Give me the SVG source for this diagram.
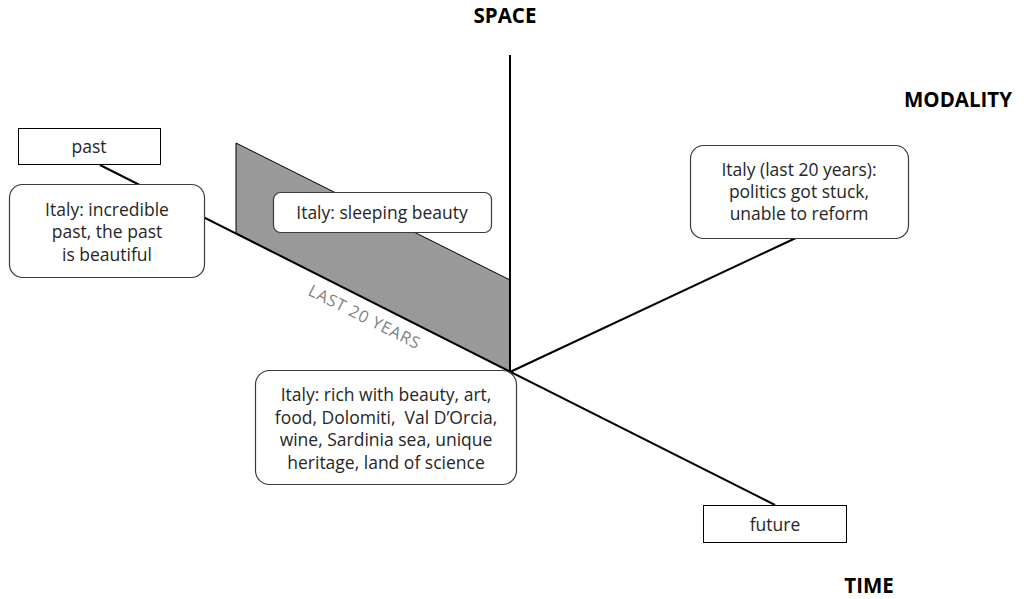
<svg xmlns="http://www.w3.org/2000/svg" width="1024" height="599" viewBox="0 0 1024 599">
<style>
.axis{stroke:#000;stroke-width:2;fill:none}
.box{fill:#fff;stroke:#000;stroke-width:1}
.rbox{fill:#fff;stroke:#3a3a3a;stroke-width:1.2}
.t{font-family:"Open Sans","Liberation Sans",sans-serif;font-size:17.5px;fill:#262626;text-anchor:middle}
.h{font-family:"Open Sans","Liberation Sans",sans-serif;font-size:20.5px;font-weight:bold;fill:#000;text-anchor:middle}
.g{font-family:"Open Sans","Liberation Sans",sans-serif;font-size:16.5px;fill:#7f7f7f;text-anchor:middle}
</style>
<rect width="1024" height="599" fill="#fff"/>
<g id="axis-labels">
<text class="h" x="505" y="23">SPACE</text>
<text class="h" x="958" y="107">MODALITY</text>
<text class="h" x="869" y="593">TIME</text>
</g>
<g id="last20-plane">
<polygon points="236,143 510,280 510,372 236,233" fill="#999" stroke="#000" stroke-width="1"/>
</g>
<g id="connectors">
<line class="axis" x1="510" y1="55" x2="510" y2="372"/>
<line class="axis" x1="100" y1="165" x2="775" y2="505"/>
<line class="axis" x1="510" y1="372" x2="798" y2="237"/>
</g>
<g id="last20-label">
<text class="g" transform="translate(362,322) rotate(26.6)" letter-spacing="0.8">LAST 20 YEARS</text>
</g>
<g id="past">
<rect class="box" x="18.5" y="128.5" width="142" height="36"/>
<text class="t" x="89" y="153">past</text>
</g>
<g id="italy-past">
<rect class="rbox" x="9.5" y="184.5" width="195" height="93" rx="13"/>
<text class="t" x="107" y="216">Italy: incredible</text>
<text class="t" x="107" y="238">past, the past</text>
<text class="t" x="107" y="261">is beautiful</text>
</g>
<g id="sleeping-beauty">
<rect class="rbox" x="273.5" y="192.5" width="218" height="40" rx="7"/>
<text class="t" x="382" y="219">Italy: sleeping beauty</text>
</g>
<g id="italy-politics">
<rect class="rbox" x="690.5" y="145.5" width="218" height="93" rx="13"/>
<text class="t" x="799" y="176">Italy (last 20 years):</text>
<text class="t" x="799" y="198">politics got stuck,</text>
<text class="t" x="799" y="220">unable to reform</text>
</g>
<g id="italy-rich">
<rect class="rbox" x="255.5" y="370.5" width="261" height="114" rx="14"/>
<text class="t" x="386" y="401">Italy: rich with beauty, art,</text>
<text class="t" x="386" y="424">food, Dolomiti,&#160; Val D’Orcia,</text>
<text class="t" x="386" y="446">wine, Sardinia sea, unique</text>
<text class="t" x="386" y="469">heritage, land of science</text>
</g>
<g id="future">
<rect class="box" x="703.5" y="505.5" width="143" height="37"/>
<text class="t" x="775" y="531">future</text>
</g>
</svg>
